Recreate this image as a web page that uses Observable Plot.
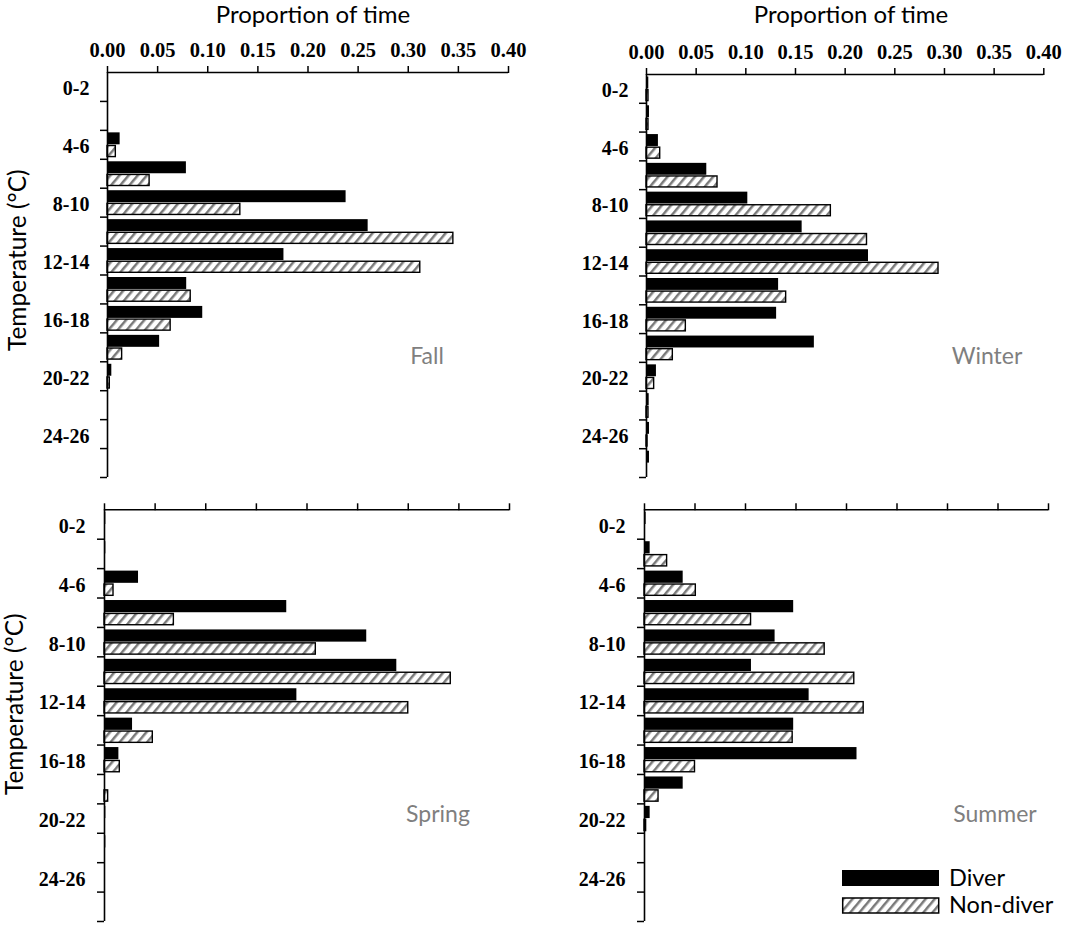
<!DOCTYPE html>
<html><head><meta charset="utf-8">
<script src="https://cdn.jsdelivr.net/npm/d3@7"></script>
<script src="https://cdn.jsdelivr.net/npm/@observablehq/plot@0.6"></script>
<style>
body{margin:0;background:#fff;}
#root{position:relative;width:1084px;height:927px;overflow:hidden;background:#fff;}
.panel{position:absolute;}
.t{position:absolute;font-family:Lato,"Open Sans",sans-serif;white-space:nowrap;line-height:1;}
</style></head><body>
<div id="root"></div>
<script>
// ---- data ----
const temps = ["0-2","2-4","4-6","6-8","8-10","10-12","12-14","14-16","16-18","18-20","20-22","22-24","24-26","26-28"];
const labeledTemps = ["0-2","4-6","8-10","12-14","16-18","20-22","24-26"];
const xTicks = [0,0.05,0.10,0.15,0.20,0.25,0.30,0.35,0.40];
const seasons = ["Fall","Winter","Spring","Summer"];
const seriesNames = ["Diver","Non-diver"];

const fallDiver   = [0,0.001,0.0126,0.0787,0.238,0.260,0.176,0.079,0.095,0.052,0.0043,0.001,0,0];
const fallNon     = [0,0,0.0083,0.042,0.1325,0.345,0.312,0.083,0.063,0.0146,0.0023,0,0,0];
const winterDiver = [0.0023,0.003,0.012,0.0607,0.102,0.1567,0.2235,0.133,0.131,0.169,0.010,0.0027,0.003,0.003];
const winterNon   = [0.002,0.002,0.0138,0.0715,0.1856,0.222,0.294,0.1406,0.0396,0.0265,0.0077,0.002,0.001,0];
const springDiver = [0.0013,0.0013,0.0336,0.180,0.259,0.2887,0.190,0.0277,0.0142,0,0.0013,0.0013,0,0];
const springNon   = [0,0,0.0089,0.0685,0.2087,0.342,0.300,0.0477,0.0151,0.0036,0,0,0,0];
const summerDiver = [0.0016,0.0056,0.0383,0.1477,0.1293,0.1059,0.163,0.1477,0.2104,0.0383,0.0056,0,0,0];
const summerNon   = [0,0.0224,0.0508,0.1055,0.1784,0.2077,0.217,0.1467,0.050,0.0139,0.0016,0,0,0];

// ---- layout ----
const root = document.getElementById("root");
const panels = [
  {season:"Fall",   diver:fallDiver,   non:fallNon,   left:0,   top:0,   width:540, height:480, mL:107, mR:32,   mT:72,   mB:3, tickLabels:true,  yPad:18},
  {season:"Winter", diver:winterDiver, non:winterNon, left:540, top:0,   width:544, height:480, mL:106, mR:40.7, mT:74,   mB:3, tickLabels:true,  yPad:18},
  {season:"Spring", diver:springDiver, non:springNon, left:0,   top:480, width:540, height:447, mL:104, mR:31,   mT:29.3, mB:6, tickLabels:false, yPad:19},
  {season:"Summer", diver:summerDiver, non:summerNon, left:540, top:480, width:544, height:447, mL:104, mR:36,   mT:29.3, mB:6, tickLabels:false, yPad:19}
];

function bounds(t){ return t.split("-").map(Number); }
const boundaryTicks = temps.map(t => bounds(t)[1]);
const labelCenters = labeledTemps.map(t => { const [a,b] = bounds(t); return (a+b)/2; });
const labelByCenter = new Map(labeledTemps.map((t,i) => [labelCenters[i], t]));
const yMax = bounds(temps[temps.length-1])[1];

function hatchDefs(id){
  return `<pattern id="${id}" patternUnits="userSpaceOnUse" width="7" height="7" patternTransform="rotate(40)">
    <rect width="7" height="7" fill="#fff"/><rect x="0" y="0" width="2.5" height="7" fill="#7a7a7a"/></pattern>`;
}

panels.forEach((p, k) => {
  const rows = temps.flatMap((t,i) => {
    const [lo,hi] = bounds(t); const mid = (lo+hi)/2;
    return [{t, series:seriesNames[0], v:p.diver[i], y1:lo, y2:mid},
            {t, series:seriesNames[1], v:p.non[i],   y1:mid, y2:hi}];
  });
  const hid = "hatch" + k;
  const chart = Plot.plot({
    width: p.width, height: p.height,
    marginLeft: p.mL, marginRight: p.mR, marginTop: p.mT, marginBottom: p.mB,
    style: {fontFamily: '"Liberation Serif", serif', color: "#000", background: "transparent", overflow: "visible"},
    x: {domain: [0, 0.4]},
    y: {domain: [0, yMax], reverse: true},
    marks: [
      Plot.rectX(rows.filter(d => d.series === seriesNames[0] && d.v > 0), {x1: 0, x2: "v", y1: "y1", y2: "y2", fill: "#000", insetTop: 2.5}),
      Plot.rectX(rows.filter(d => d.series === seriesNames[1] && d.v > 0), {x1: 0, x2: "v", y1: "y1", y2: "y2", fill: `url(#${hid})`, stroke: "#000", strokeWidth: 1.4, insetTop: 1.2, insetBottom: 2.2}),
      Plot.axisX({anchor: "top", ticks: xTicks, tickSize: 7, tickPadding: 9, strokeWidth: 1.5,
        tickFormat: p.tickLabels ? d3.format(".2f") : () => "", label: null,
        fontSize: 20.5, fontWeight: "bold", fontFamily: '"Liberation Serif", serif'}),
      Plot.axisY({anchor: "left", ticks: boundaryTicks, tickSize: 7, strokeWidth: 1.5, tickFormat: () => "", label: null}),
      Plot.axisY({anchor: "left", ticks: labelCenters, tickSize: 0, tickPadding: p.yPad, dy: 2,
        tickFormat: d => labelByCenter.get(d), label: null,
        fontSize: 20, fontWeight: "bold", fontFamily: '"Liberation Serif", serif'}),
      Plot.ruleY([0], {x1: 0, x2: 0.4, stroke: "#000", strokeWidth: 1.6}),
      Plot.ruleX([0], {y1: 0, y2: yMax, stroke: "#000", strokeWidth: 1.6})
    ]
  });
  d3.select(chart).insert("defs", ":first-child").html(hatchDefs(hid));
  chart.classList.add("panel");
  chart.style.left = p.left + "px";
  chart.style.top = p.top + "px";
  root.appendChild(chart);
});

// ---- texts ----
function addText(str, opts){
  const d = document.createElement("div");
  d.className = "t"; d.textContent = str;
  Object.assign(d.style, opts);
  root.appendChild(d);
  return d;
}
function centerAt(el, cx, cy){
  const r = el.getBoundingClientRect();
  el.style.left = (cx - r.width/2) + "px";
  el.style.top = (cy - r.height/2) + "px";
}
const xTitle = "Proportion of time";
const yTitle = "Temperature (°C)";
centerAt(addText(xTitle, {fontSize: "24px", color: "#000"}), 313, 14);
centerAt(addText(xTitle, {fontSize: "24px", color: "#000"}), 851, 14);
[[17, 260], [14, 704]].forEach(([cx, cy]) => {
  const el = addText(yTitle, {fontSize: "24.5px", color: "#000"});
  centerAt(el, cx, cy);
  el.style.transform = "rotate(-90deg)";
});
const seasonPos = [[427, 355], [987, 355], [438, 813], [995, 813]];
seasons.forEach((s, i) => centerAt(addText(s, {fontSize: "23px", color: "#7f7f7f"}), seasonPos[i][0], seasonPos[i][1]));

// ---- legend ----
const leg = document.createElement("div");
leg.style.cssText = "position:absolute;left:842px;top:866px;";
leg.innerHTML = `<svg width="100" height="52" style="position:absolute;left:0;top:0;overflow:visible">
  <defs>${hatchDefs("hatchLeg")}</defs>
  <rect x="0" y="4" width="97" height="16" fill="#000"/>
  <rect x="0.7" y="32" width="96" height="15" fill="url(#hatchLeg)" stroke="#000" stroke-width="1.5"/>
</svg>`;
root.appendChild(leg);
const l1 = addText(seriesNames[0], {fontSize: "23.5px", color: "#000"});
const l2 = addText(seriesNames[1], {fontSize: "23.5px", color: "#000"});
[[l1, 878], [l2, 905]].forEach(([el, cy]) => {
  const r = el.getBoundingClientRect();
  el.style.left = "949px"; el.style.top = (cy - r.height/2) + "px";
});
</script>
</body></html>
